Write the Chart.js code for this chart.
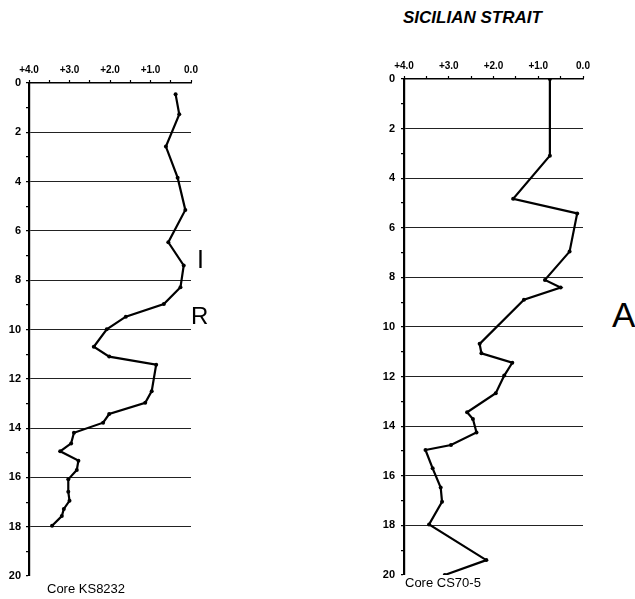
<!DOCTYPE html>
<html>
<head>
<meta charset="utf-8">
<script src="https://cdn.jsdelivr.net/npm/chart.js@4/dist/chart.umd.min.js"></script>
<style>
  html, body { margin:0; padding:0; background:#fff; width:635px; height:599px; overflow:hidden; }
  body { position:relative; font-family:"Liberation Sans", Arial, sans-serif; color:#000; }
  canvas { position:absolute; }
  .t { position:absolute; line-height:1; white-space:nowrap; }
</style>
</head>
<body>
<div class="t" style="left:403px;top:9px;font-size:17px;font-weight:bold;font-style:italic;">SICILIAN STRAIT</div>
<canvas id="c1" width="200" height="544" style="left:0px;top:40px;"></canvas>
<canvas id="c2" width="217" height="547" style="left:375px;top:36px;"></canvas>
<div class="t" style="left:197px;top:247px;font-size:25px;">I</div>
<div class="t" style="left:191px;top:304px;font-size:24px;">R</div>
<div class="t" style="left:612px;top:297px;font-size:35px;">A</div>
<div class="t" style="left:47px;top:582px;font-size:13px;">Core KS8232</div>
<div class="t" style="left:405px;top:576px;font-size:13px;">Core CS70-5</div>
<script>
// Core KS8232: depth (y) and isotope value (x)
const ksDepth = [0.46,1.27,2.58,3.84,5.15,6.46,7.4,8.29,8.97,9.48,9.99,10.7,11.1,11.43,12.5,12.97,13.43,13.78,14.19,14.62,14.94,15.32,15.7,16.08,16.58,16.95,17.28,17.57,17.96];
const ksValue = [0.38,0.29,0.62,0.33,0.14,0.56,0.18,0.26,0.67,1.61,2.08,2.40,2.02,0.86,0.97,1.13,2.02,2.17,2.89,2.96,3.23,2.78,2.82,3.03,3.03,3.00,3.14,3.19,3.43];
// Core CS70-5
const csDepth = [0,3.09,4.83,5.42,6.96,8.1,8.41,8.9,10.68,11.06,11.44,11.96,12.67,13.44,13.71,14.25,14.76,14.96,15.7,16.47,17.05,17.96,19.40,20.0];
const csValue = [0.74,0.74,1.56,0.13,0.30,0.85,0.50,1.32,2.31,2.27,1.58,1.76,1.95,2.59,2.46,2.38,2.95,3.52,3.36,3.18,3.15,3.44,2.16,3.09];
// axis ticks
const xTickLabels = {4:'+4.0',3:'+3.0',2:'+2.0',1:'+1.0',0:'0.0'};
const yTickLabels = [0,2,4,6,8,10,12,14,16,18,20];
const gridDepths = [2,4,6,8,10,12,14,16,18];

const FONT = '"Liberation Sans", Arial, sans-serif';

function makeChart(id, depth, value, yWidth, xHeight, yPad) {
  const pts = depth.map((d,i)=>({x:value[i], y:d}));
  return new Chart(document.getElementById(id), {
    type:'scatter',
    data:{datasets:[{
      data:pts, showLine:true, borderColor:'#000', borderWidth:2.2,
      pointRadius:2, pointBackgroundColor:'#000', pointBorderColor:'#000', pointBorderWidth:0,
      tension:0, fill:false
    }]},
    options:{
      responsive:false, maintainAspectRatio:false, animation:false, devicePixelRatio:1,
      layout:{padding:{left:0, right:9, top:0, bottom:8}},
      plugins:{legend:{display:false}, tooltip:{enabled:false}},
      scales:{
        x:{
          type:'linear', position:'top', reverse:true, min:0, max:4,
          afterFit: s => { s.height = xHeight; s.paddingLeft = 0; s.paddingRight = 0; },
          ticks:{
            stepSize:0.5, autoSkip:false, maxRotation:0, padding:4, color:'#000',
            font:{family:FONT, size:10, weight:'bold'},
            callback: v => (xTickLabels[v] !== undefined ? xTickLabels[v] : '')
          },
          grid:{drawOnChartArea:false, drawTicks:true, tickLength:3, tickColor:'#000', tickWidth:1.2},
          border:{color:'#000', width:1.6}
        },
        y:{
          type:'linear', reverse:true, min:0, max:20,
          afterFit: s => { s.width = yWidth; s.paddingTop = 0; s.paddingBottom = 0; },
          ticks:{
            stepSize:1, autoSkip:false, padding:yPad, color:'#000',
            font:{family:FONT, size:11, weight:'bold'},
            callback: v => (yTickLabels.includes(v) ? String(v) : '')
          },
          grid:{
            drawTicks:true, tickLength:3, tickColor:'#000', tickWidth:1.2,
            lineWidth:1.1,
            color: ctx => (ctx.tick && gridDepths.includes(ctx.tick.value)) ? '#222' : 'rgba(0,0,0,0)'
          },
          border:{color:'#000', width:2.2}
        }
      }
    }
  });
}

makeChart('c1', ksDepth, ksValue, 29, 43, 5);
makeChart('c2', csDepth, csValue, 29, 43, 6);
</script>
</body>
</html>
